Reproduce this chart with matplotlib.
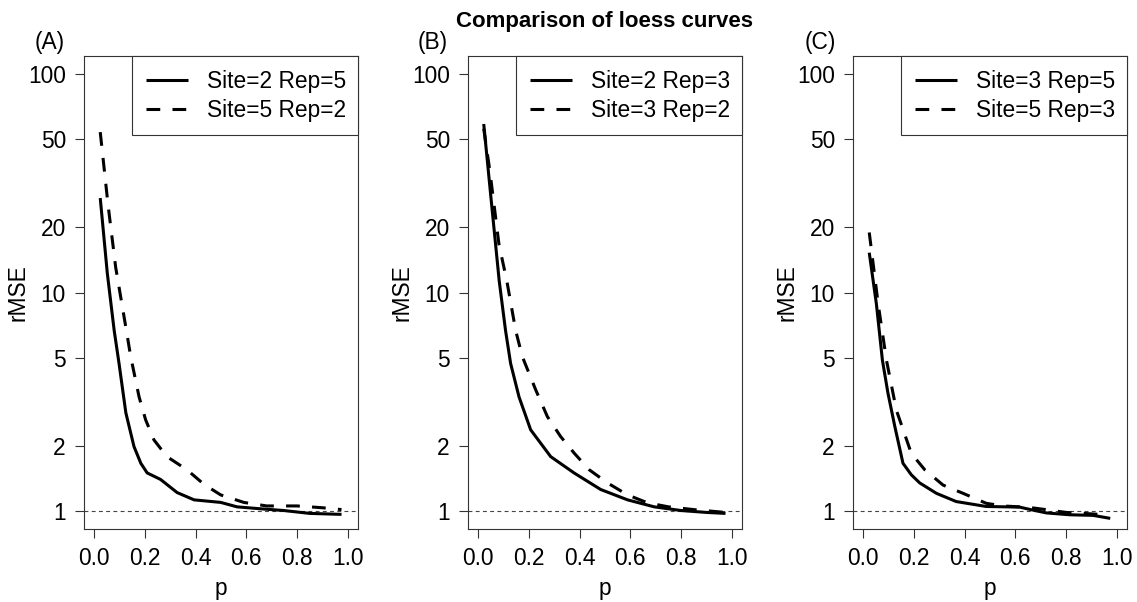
import matplotlib
matplotlib.use("Agg")
import matplotlib.pyplot as plt
from matplotlib.ticker import NullLocator

plt.rcParams['font.family'] = ['Liberation Sans', 'DejaVu Sans']

# values (rMSE vs p, log y axis)
a_solid_p = [0.024, 0.052, 0.079, 0.098, 0.125, 0.157, 0.184, 0.209, 0.262, 0.327, 0.394, 0.499, 0.563, 0.65, 0.748, 0.85, 0.975]
a_solid_v = [27, 12.2, 6.7, 4.75, 2.82, 1.98, 1.66, 1.5, 1.40, 1.22, 1.13, 1.10, 1.05, 1.03, 1.01, 0.98, 0.97]
a_dash_p = [0.024, 0.055, 0.085, 0.129, 0.144, 0.177, 0.203, 0.236, 0.287, 0.366, 0.433, 0.499, 0.59, 0.68, 0.8, 0.9, 0.975]
a_dash_v = [54, 25, 13, 6.5, 5.1, 3.34, 2.62, 2.12, 1.78, 1.55, 1.33, 1.19, 1.10, 1.06, 1.06, 1.04, 1.02]

b_solid_p = [0.022, 0.052, 0.083, 0.108, 0.128, 0.161, 0.207, 0.286, 0.378, 0.483, 0.589, 0.694, 0.8, 0.9, 0.975]
b_solid_v = [58.8, 26, 11.3, 6.7, 4.74, 3.34, 2.36, 1.78, 1.50, 1.26, 1.13, 1.05, 1.01, 0.99, 0.98]
b_dash_p = [0.022, 0.046, 0.082, 0.113, 0.148, 0.174, 0.227, 0.273, 0.325, 0.378, 0.438, 0.51, 0.589, 0.668, 0.75, 0.85, 0.975]
b_dash_v = [56, 36, 16.6, 11.3, 6.7, 5.1, 3.59, 2.71, 2.2, 1.85, 1.55, 1.35, 1.19, 1.095, 1.05, 1.02, 0.99]

c_solid_p = [0.024, 0.052, 0.076, 0.098, 0.125, 0.157, 0.19, 0.223, 0.289, 0.367, 0.485, 0.617, 0.66, 0.722, 0.814, 0.906, 0.974]
c_solid_v = [15.2, 8.9, 4.9, 3.46, 2.44, 1.66, 1.47, 1.35, 1.21, 1.11, 1.054, 1.047, 1.02, 0.985, 0.966, 0.96, 0.93]
c_dash_p = [0.024, 0.059, 0.092, 0.131, 0.19, 0.243, 0.315, 0.394, 0.485, 0.55, 0.65, 0.72, 0.8, 0.87, 0.93]
c_dash_v = [18.8, 8.9, 4.9, 2.9, 1.84, 1.55, 1.32, 1.21, 1.09, 1.06, 1.045, 1.02, 0.99, 0.98, 0.97]

panel_tags = ["(A)", "(B)", "(C)"]
solid_labels = ["Site=2 Rep=5", "Site=2 Rep=3", "Site=3 Rep=5"]
dash_labels = ["Site=5 Rep=2", "Site=3 Rep=2", "Site=5 Rep=3"]
y_ticks = [1, 2, 5, 10, 20, 50, 100]
x_ticks = [0.0, 0.2, 0.4, 0.6, 0.8, 1.0]

series = [
    (a_solid_p, a_solid_v, a_dash_p, a_dash_v),
    (b_solid_p, b_solid_v, b_dash_p, b_dash_v),
    (c_solid_p, c_solid_v, c_dash_p, c_dash_v),
]

W, H = 1137, 602
fig = plt.figure(figsize=(W / 100, H / 100), dpi=100)

lefts = [84, 468, 853]
tag_x = [50, 433, 820]
ax_w, ax_top, ax_bot = 274, 56, 529
edge = "#333333"
fs = 16.4

for i, (sp, sv, dp, dv) in enumerate(series):
    ax = fig.add_axes([lefts[i] / W, 1 - ax_bot / H, ax_w / W, (ax_bot - ax_top) / H])
    ax.axhline(1, color="#444444", lw=0.8, linestyle=(0, (3.5, 3)), zorder=1)
    l1, = ax.plot(sp, sv, color="black", lw=2.2, solid_capstyle="butt")
    l2, = ax.plot(dp, dv, color="black", lw=2.2, dashes=(4.5, 4), dash_capstyle="butt")

    ax.set_yscale("log")
    # R style 4% padding on log and linear axes
    lo, hi = 0.0, 2.0
    pad = 0.04 * (hi - lo)
    ax.set_ylim(10 ** (lo - pad), 10 ** (hi + pad))
    ax.set_xlim(-0.04, 1.04)
    ax.set_yticks(y_ticks)
    ax.set_yticklabels([str(t) for t in y_ticks])
    ax.yaxis.set_minor_locator(NullLocator())
    ax.set_xticks(x_ticks)
    ax.set_xticklabels(["%.1f" % t for t in x_ticks])

    ax.tick_params(direction="out", length=6.5, width=0.8, labelsize=fs, pad=6.5, color=edge)
    for s in ax.spines.values():
        s.set_linewidth(0.8)
        s.set_color(edge)

    ax.set_xlabel("p", fontsize=fs, va="center")
    ax.xaxis.set_label_coords(0.5, -(588 - ax_bot) / (ax_bot - ax_top))
    ax.set_ylabel("rMSE", fontsize=fs, va="center")
    ax.yaxis.set_label_coords(-66 / ax_w, 0.5)

    leg = ax.legend([l1, l2], [solid_labels[i], dash_labels[i]], loc="upper right",
                    bbox_to_anchor=(1 - 0.825, 0, 0.825, 1), mode="expand",
                    borderaxespad=0, fontsize=fs, handlelength=1.85, handletextpad=0.85,
                    borderpad=0.6, labelspacing=0.27, fancybox=False, framealpha=1,
                    edgecolor=edge)
    leg.get_frame().set_linewidth(0.8)

    fig.text(tag_x[i] / W, 1 - 43 / H, panel_tags[i], ha="center", va="center", fontsize=fs)

fig.text(605 / W, 1 - 21 / H, "Comparison of loess curves", ha="center", va="center",
         fontsize=16, fontweight="bold")

fig.savefig("out.png", dpi=100)
